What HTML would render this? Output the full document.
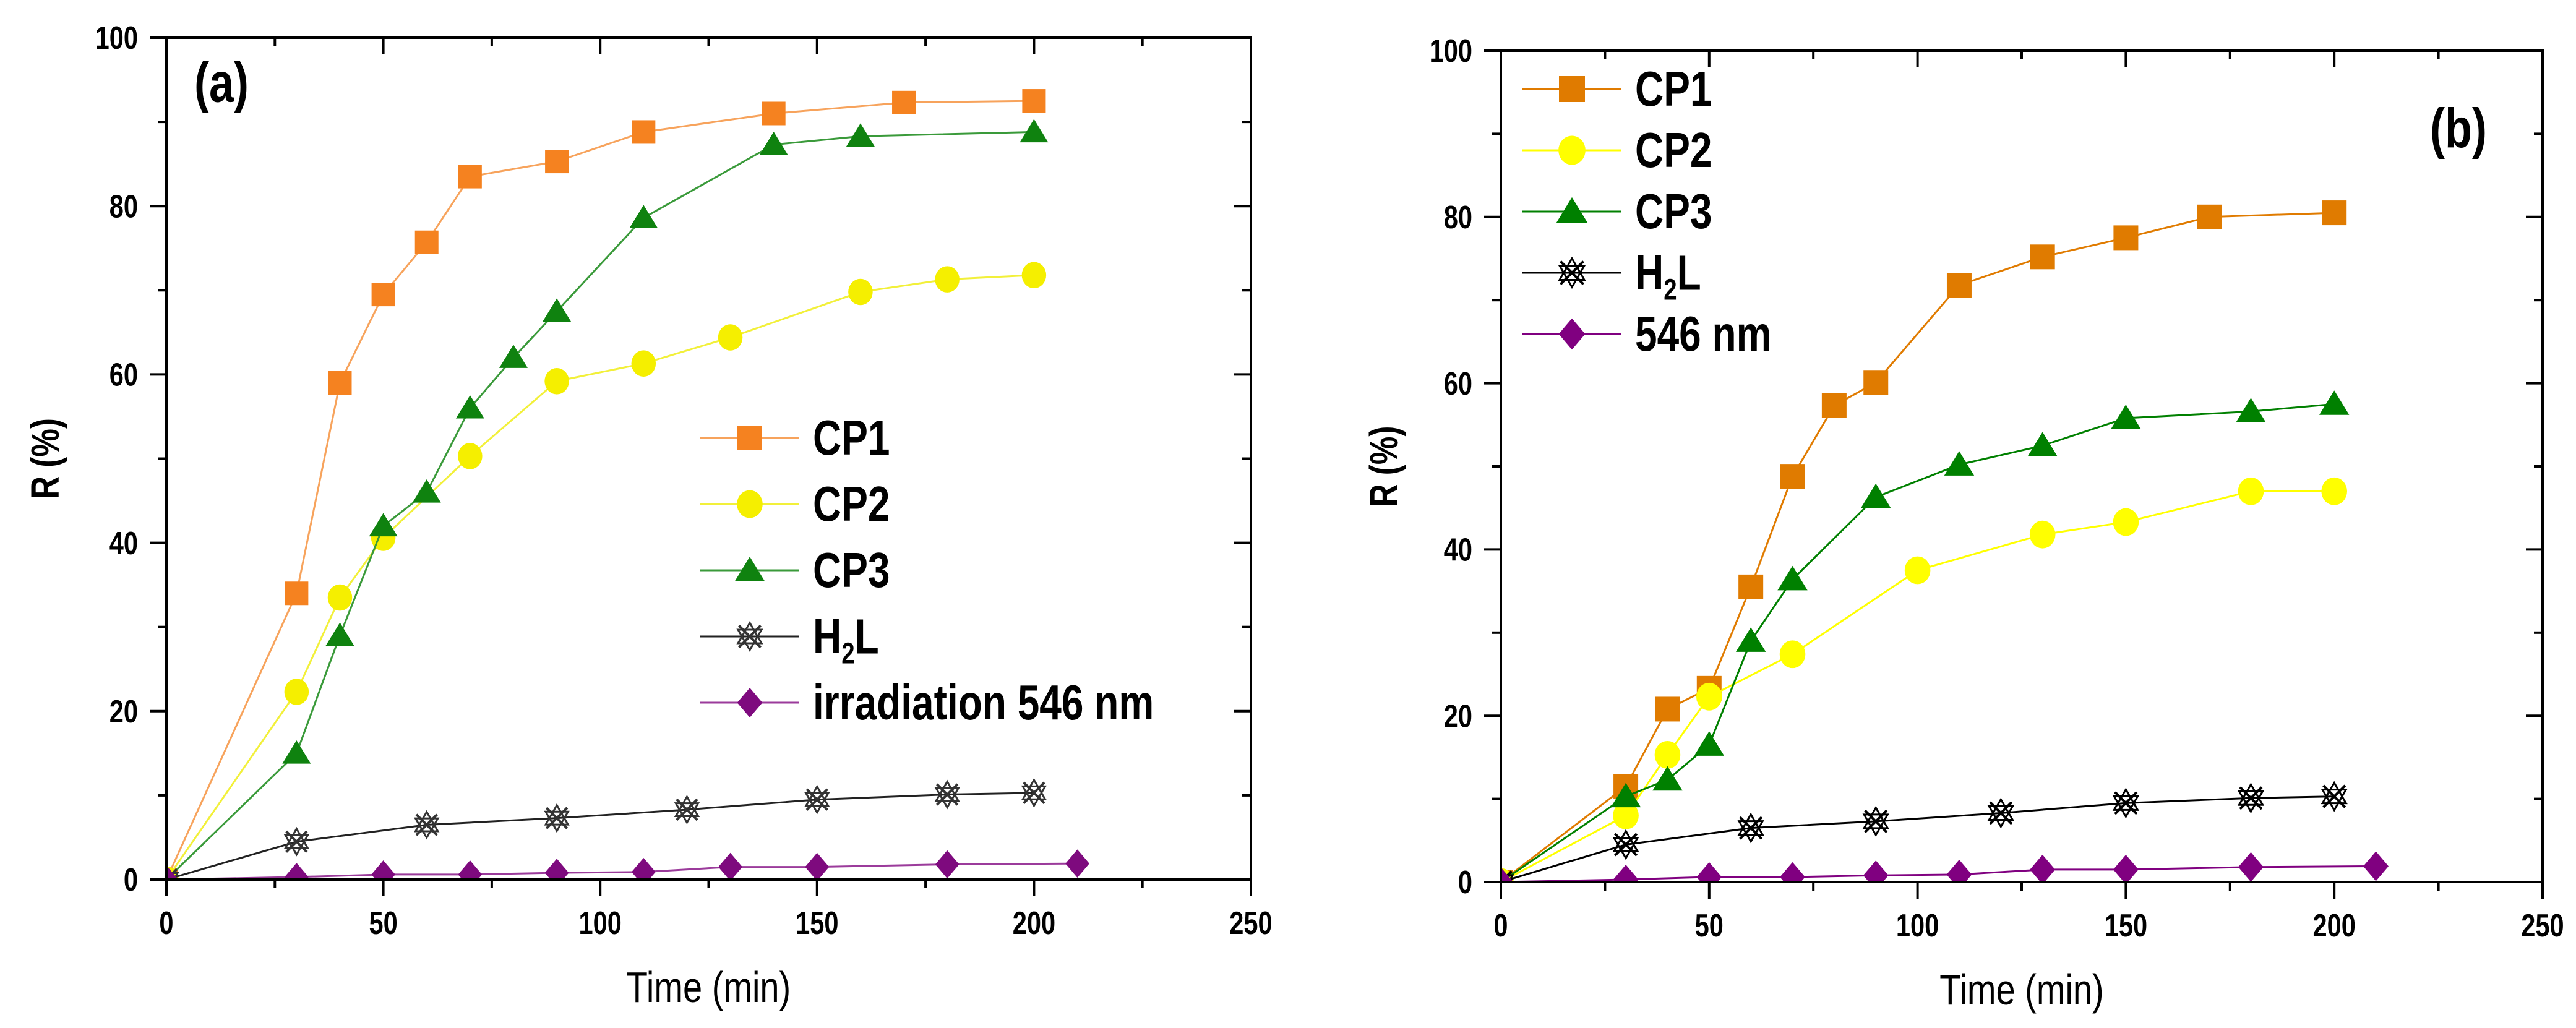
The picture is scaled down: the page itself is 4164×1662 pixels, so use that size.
<!DOCTYPE html>
<html><head><meta charset="utf-8">
<style>
html,body{margin:0;padding:0;background:#fff;}
svg{display:block;}
text{font-family:"Liberation Sans",sans-serif;}
</style></head>
<body>
<svg id="fig" width="4164" height="1662" viewBox="0 0 4164 1662" xmlns="http://www.w3.org/2000/svg">
<rect x="0" y="0" width="4164" height="1662" fill="#fff"/>
</svg>
<script>
// ---------- data ----------
const xTicks = [0, 50, 100, 150, 200, 250];
const yTicks = [0, 20, 40, 60, 80, 100];
const seriesNames = ["CP1", "CP2", "CP3", "H2L", "546"];

const aCP1x = [0, 30, 40, 50, 60, 70, 90, 110, 140, 170, 200];
const aCP1y = [0, 34, 59, 69.5, 75.7, 83.5, 85.3, 88.8, 91, 92.3, 92.5];
const aCP2x = [0, 30, 40, 50, 70, 90, 110, 130, 160, 180, 200];
const aCP2y = [0, 22.3, 33.5, 40.6, 50.3, 59.2, 61.3, 64.4, 69.8, 71.3, 71.8];
const aCP3x = [0, 30, 40, 50, 60, 70, 80, 90, 110, 140, 160, 200];
const aCP3y = [0, 15, 29, 42, 46, 56, 62, 67.5, 78.6, 87.3, 88.3, 88.8];
const aH2Lx = [0, 30, 60, 90, 120, 150, 180, 200];
const aH2Ly = [0, 4.5, 6.5, 7.3, 8.3, 9.5, 10.1, 10.3];
const aIrrx = [0, 30, 50, 70, 90, 110, 130, 150, 180, 210];
const aIrry = [0, 0.3, 0.6, 0.6, 0.8, 0.9, 1.5, 1.5, 1.8, 1.9];

const bCP1x = [0, 30, 40, 50, 60, 70, 80, 90, 110, 130, 150, 170, 200];
const bCP1y = [0, 11.5, 20.8, 23.3, 35.5, 48.8, 57.3, 60.1, 71.8, 75.2, 77.5, 80, 80.5];
const bCP2x = [0, 30, 40, 50, 70, 100, 130, 150, 180, 200];
const bCP2y = [0, 8, 15.3, 22.3, 27.4, 37.5, 41.8, 43.3, 47, 47];
const bCP3x = [0, 30, 40, 50, 60, 70, 90, 110, 130, 150, 180, 200];
const bCP3y = [0, 10.3, 12.3, 16.5, 29, 36.4, 46.3, 50.2, 52.5, 55.8, 56.6, 57.5];
const bH2Lx = [0, 30, 60, 90, 120, 150, 180, 200];
const bH2Ly = [0, 4.5, 6.5, 7.3, 8.3, 9.5, 10.1, 10.3];
const bIrrx = [0, 30, 50, 70, 90, 110, 130, 150, 180, 210];
const bIrry = [0, 0.3, 0.6, 0.6, 0.8, 0.9, 1.5, 1.5, 1.8, 1.9];

// ---------- drawing ----------
const NS = "http://www.w3.org/2000/svg";
const svg = document.getElementById("fig");
const SX = 0.8;
function mk(tag, attrs, parent) {
  const e = document.createElementNS(NS, tag);
  for (const k in attrs) e.setAttribute(k, attrs[k]);
  (parent || svg).appendChild(e);
  return e;
}
function txt(s, x, y, size, weight, anchor, parent, name, rot) {
  const t = mk("text", {x: 0, y: 0, "font-size": size, "font-weight": weight, "text-anchor": anchor, "dominant-baseline": "central", fill: "#000",
    transform: `translate(${x},${y})${rot ? " rotate(-90)" : ""} scale(${SX},1)`}, parent);
  t.textContent = s;
  
  
  return t;
}

function marker(kind, cx, cy, color, s, parent) {
  let e;
  if (kind === "square") {
    e = mk("rect", {x: cx - s/2, y: cy - s/2, width: s, height: s, fill: color}, parent);
  } else if (kind === "circle") {
    e = mk("ellipse", {cx: cx, cy: cy, rx: s*0.52, ry: s*0.56, fill: color}, parent);
  } else if (kind === "triangle") {
    const h = s*0.55;
    e = mk("polygon", {points: `${cx},${cy-h} ${cx+h*1.1},${cy+h*0.8} ${cx-h*1.1},${cy+h*0.8}`, fill: color}, parent);
  } else if (kind === "diamond") {
    const h = s*0.6;
    e = mk("polygon", {points: `${cx},${cy-h} ${cx+h*0.85},${cy} ${cx},${cy+h} ${cx-h*0.85},${cy}`, fill: color}, parent);
  } else {
    e = mk("g", {}, parent);
    const r = s*0.55;
    let p1 = "", p2 = "";
    for (let i = 0; i < 3; i++) {
      const a1 = -Math.PI/2 + i*2*Math.PI/3, a2 = Math.PI/2 + i*2*Math.PI/3;
      p1 += `${cx + r*Math.cos(a1)},${cy + r*Math.sin(a1)} `;
      p2 += `${cx + r*Math.cos(a2)},${cy + r*Math.sin(a2)} `;
    }
    mk("polygon", {points: p1, fill: "none", stroke: color, "stroke-width": 3}, e);
    mk("polygon", {points: p2, fill: "none", stroke: color, "stroke-width": 3}, e);
    mk("line", {x1: cx - r*0.8, y1: cy - r*0.8, x2: cx + r*0.8, y2: cy + r*0.8, stroke: color, "stroke-width": 4}, e);
    mk("line", {x1: cx + r*0.8, y1: cy - r*0.8, x2: cx - r*0.8, y2: cy + r*0.8, stroke: color, "stroke-width": 4}, e);
  }
  return e;
}

function panel(cfg) {
  const g = mk("g", {});
  
  
  const X = v => cfg.x0 + (cfg.x1 - cfg.x0) * v / 250;
  const Y = v => cfg.y0 + (cfg.y1 - cfg.y0) * v / 100;
  const clipId = cfg.id + "-clip";
  const cp = mk("clipPath", {id: clipId}, g);
  mk("rect", {x: cfg.x0, y: cfg.y1, width: cfg.x1 - cfg.x0, height: cfg.y0 - cfg.y1}, cp);

  const sg = mk("g", {"clip-path": `url(#${clipId})`}, g);
  cfg.series.forEach((s, si) => {
    const sgrp = mk("g", {}, sg);
    
    
    const pts = s.xs.map((x, i) => `${X(x)},${Y(s.ys[i])}`).join(" ");
    const pl = mk("polyline", {points: pts, fill: "none", stroke: s.color, "stroke-width": 3}, sgrp);
    
    
    s.xs.forEach((x, i) => {
      const m = marker(s.kind, X(x), Y(s.ys[i]), s.mcolor || s.color, cfg.ms, sgrp);
      
      
    });
  });
  const frame = mk("rect", {x: cfg.x0, y: cfg.y1, width: cfg.x1 - cfg.x0, height: cfg.y0 - cfg.y1, fill: "none", stroke: "#000", "stroke-width": 4}, g);
  
  
  const tg = mk("g", {stroke: "#000", "stroke-width": 4}, g);
  for (let v = 0; v <= 250; v += 25) {
    const major = v % 50 === 0, L = major ? 27 : 14;
    mk("line", {x1: X(v), y1: cfg.y0, x2: X(v), y2: cfg.y0 + L}, tg);
    mk("line", {x1: X(v), y1: cfg.y1, x2: X(v), y2: cfg.y1 + L}, tg);
  }
  for (let v = 0; v <= 100; v += 10) {
    const major = v % 20 === 0, L = major ? 27 : 14;
    mk("line", {x1: cfg.x0, y1: Y(v), x2: cfg.x0 - L, y2: Y(v)}, tg);
    mk("line", {x1: cfg.x1, y1: Y(v), x2: cfg.x1 - L, y2: Y(v)}, tg);
  }
  xTicks.forEach(v => txt(String(v), X(v), cfg.y0 + 70, 52, "bold", "middle", g, cfg.id + '-x-tick-label'));
  yTicks.forEach(v => txt(String(v), cfg.x0 - 46, Y(v), 52, "bold", "end", g, cfg.id + '-y-tick-label'));

  txt("Time (min)", (cfg.x0 + cfg.x1)/2, cfg.y0 + 175, 70, "normal", "middle", g, cfg.id + '-x-axis-title');
  txt("R (%)", cfg.ytx, (cfg.y0 + cfg.y1)/2, 64, "bold", "middle", g, cfg.id + '-y-axis-title', true);

  txt(cfg.label, cfg.labelX, cfg.labelY, 90, "bold", "start", g, cfg.id + '-panel-label');

  const lg = mk("g", {}, g);
  
  
  cfg.series.forEach((s, i) => {
    const y = cfg.legY + i * cfg.legDy;
    const eg = mk("g", {}, lg);
    
    
    mk("line", {x1: cfg.legX, y1: y, x2: cfg.legX + 160, y2: y, stroke: s.color, "stroke-width": 3}, eg);
    marker(s.kind, cfg.legX + 80, y, s.mcolor || s.color, cfg.ms + 2, eg);
    const t = mk("text", {x: 0, y: 0, "font-size": 80, "font-weight": "bold", "dominant-baseline": "central", fill: "#000",
      transform: `translate(${cfg.legX + 182},${y}) scale(${SX},1)`}, eg);
    if (s.label === "H2L") {
      t.appendChild(document.createTextNode("H"));
      const sub = mk("tspan", {"font-size": 48, dy: 28}, t);
      sub.textContent = "2";
      const l = mk("tspan", {dy: -28}, t);
      l.textContent = "L";
    } else {
      t.textContent = s.label;
    }
  });
}

panel({
  id: "panel-a", x0: 269, x1: 2022, y0: 1422, y1: 61, ms: 38,
  ytx: 74, label: "(a)", labelX: 314, labelY: 134,
  legX: 1132, legY: 708, legDy: 107,
  series: [
    {xs: aCP1x, ys: aCP1y, color: "#f7a35c", mcolor: "#f58220", kind: "square", label: "CP1"},
    {xs: aCP2x, ys: aCP2y, color: "#f2f03a", mcolor: "#f5ef00", kind: "circle", label: "CP2"},
    {xs: aCP3x, ys: aCP3y, color: "#3a9a3a", mcolor: "#0f820f", kind: "triangle", label: "CP3"},
    {xs: aH2Lx, ys: aH2Ly, color: "#222", mcolor: "#333", kind: "star", label: "H2L"},
    {xs: aIrrx, ys: aIrry, color: "#9b3b9b", mcolor: "#7e0a7e", kind: "diamond", label: "irradiation 546 nm"}
  ]
});

panel({
  id: "panel-b", x0: 2426, x1: 4110, y0: 1426, y1: 82, ms: 40,
  ytx: 2238, label: "(b)", labelX: 3928, labelY: 208,
  legX: 2461, legY: 144, legDy: 99,
  series: [
    {xs: bCP1x, ys: bCP1y, color: "#e07b00", kind: "square", label: "CP1"},
    {xs: bCP2x, ys: bCP2y, color: "#ffff00", kind: "circle", label: "CP2"},
    {xs: bCP3x, ys: bCP3y, color: "#008000", kind: "triangle", label: "CP3"},
    {xs: bH2Lx, ys: bH2Ly, color: "#000", kind: "star", label: "H2L"},
    {xs: bIrrx, ys: bIrry, color: "#800080", kind: "diamond", label: "546 nm"}
  ]
});
</script>
</body></html>
